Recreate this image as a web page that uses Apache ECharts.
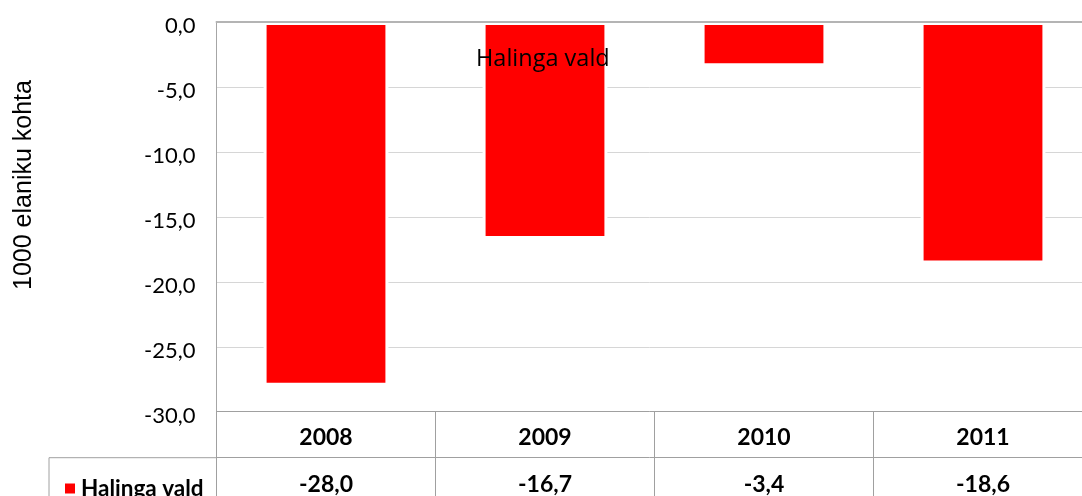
<!DOCTYPE html>
<html>
<head>
<meta charset="utf-8">
<script src="https://cdn.jsdelivr.net/npm/echarts@6/dist/echarts.min.js"></script>
<style>
  html, body { margin: 0; padding: 0; background: #fff; }
  #main { width: 1082px; height: 496px; }
</style>
</head>
<body>
<div id="main"></div>
<script>
// data
var years = ['2008', '2009', '2010', '2011'];
var halingaValues = [-28.0, -16.7, -3.4, -18.6];
var seriesName = 'Halinga vald';
var axisTitle = '1000 elaniku kohta';

function fmt(v) {
    return Number(v).toFixed(1).replace('.', ',');
}

var chart = echarts.init(document.getElementById('main'));

var option = {
    animation: false,
    textStyle: { fontFamily: 'Lato' },
    title: {
        text: seriesName,
        left: 471,
        top: 42,
        textStyle: {
            fontFamily: 'Open Sans',
            fontSize: 23.5,
            fontWeight: 'normal',
            color: '#000'
        }
    },
    legend: {
        data: [seriesName],
        left: 58,
        top: 472,
        icon: 'rect',
        itemWidth: 12,
        itemHeight: 12,
        textStyle: {
            fontFamily: 'Lato',
            fontSize: 22.5,
            fontWeight: 'bold',
            color: '#000'
        }
    },
    grid: {
        left: 216.5,
        width: 876,
        top: 22,
        bottom: 84.3,
        containLabel: false,
        outerBoundsMode: 'none'
    },
    xAxis: [
        {
            // data table row: years
            type: 'category',
            data: years,
            position: 'bottom',
            axisLine: { onZero: false, show: true, lineStyle: { color: '#a0a0a0', width: 1 } },
            axisTick: {
                show: true,
                length: 92,
                lineStyle: { color: '#a0a0a0', width: 1 }
            },
            axisLabel: {
                margin: 14,
                fontFamily: 'Lato',
                fontSize: 23,
                fontWeight: 'bold',
                color: '#000'
            },
            splitLine: { show: false }
        },
        {
            // data table row: values
            type: 'category',
            data: years,
            position: 'bottom',
            offset: 46,
            axisLine: { onZero: false, show: true, lineStyle: { color: '#a0a0a0', width: 1 } },
            axisTick: { show: false },
            axisLabel: {
                margin: 15,
                fontFamily: 'Lato',
                fontSize: 23,
                fontWeight: 'bold',
                color: '#000',
                formatter: function (v, i) { return fmt(halingaValues[i]); }
            }
        },
        {
            // zero line drawn above the bars
            type: 'category',
            data: years,
            position: 'top',
            z: 5,
            axisLine: { onZero: false, show: true, lineStyle: { color: '#b4b4b4', width: 2 } },
            axisTick: { show: false },
            axisLabel: { show: false }
        }
    ],
    yAxis: {
        type: 'value',
        min: -30,
        max: 0,
        interval: 5,
        axisLine: { show: true, lineStyle: { color: '#a6a6a6', width: 1 } },
        axisTick: { show: false },
        axisLabel: {
            margin: 21,
            fontFamily: 'Lato',
            fontSize: 22,
            color: '#000',
            verticalAlign: 'top',
            lineHeight: 8,
            formatter: function (v) { return fmt(v); }
        },
        splitLine: { lineStyle: { color: '#d6d6d6', width: 1 } }
    },
    graphic: [
        { type: 'line', shape: { x1: 49, y1: 457.7, x2: 217, y2: 457.7 }, style: { stroke: '#a0a0a0', lineWidth: 1 } },
        { type: 'line', shape: { x1: 49, y1: 457.7, x2: 49, y2: 496 }, style: { stroke: '#a0a0a0', lineWidth: 1 } },
        { type: 'line', shape: { x1: 216.5, y1: 411, x2: 216.5, y2: 496 }, style: { stroke: '#a0a0a0', lineWidth: 1 } },
        {
            type: 'text',
            x: 24,
            y: 185,
            rotation: Math.PI / 2,
            style: {
                text: axisTitle,
                fontFamily: 'Liberation Sans',
                fontSize: 25,
                fill: '#000',
                textAlign: 'center',
                textVerticalAlign: 'middle'
            }
        }
    ],
    series: [
        {
            name: seriesName,
            type: 'bar',
            xAxisIndex: 0,
            data: halingaValues,
            barWidth: '57%',
            itemStyle: {
                color: '#ff0000',
                borderColor: '#ffffff',
                borderWidth: 3
            }
        }
    ]
};

chart.setOption(option);
</script>
</body>
</html>
